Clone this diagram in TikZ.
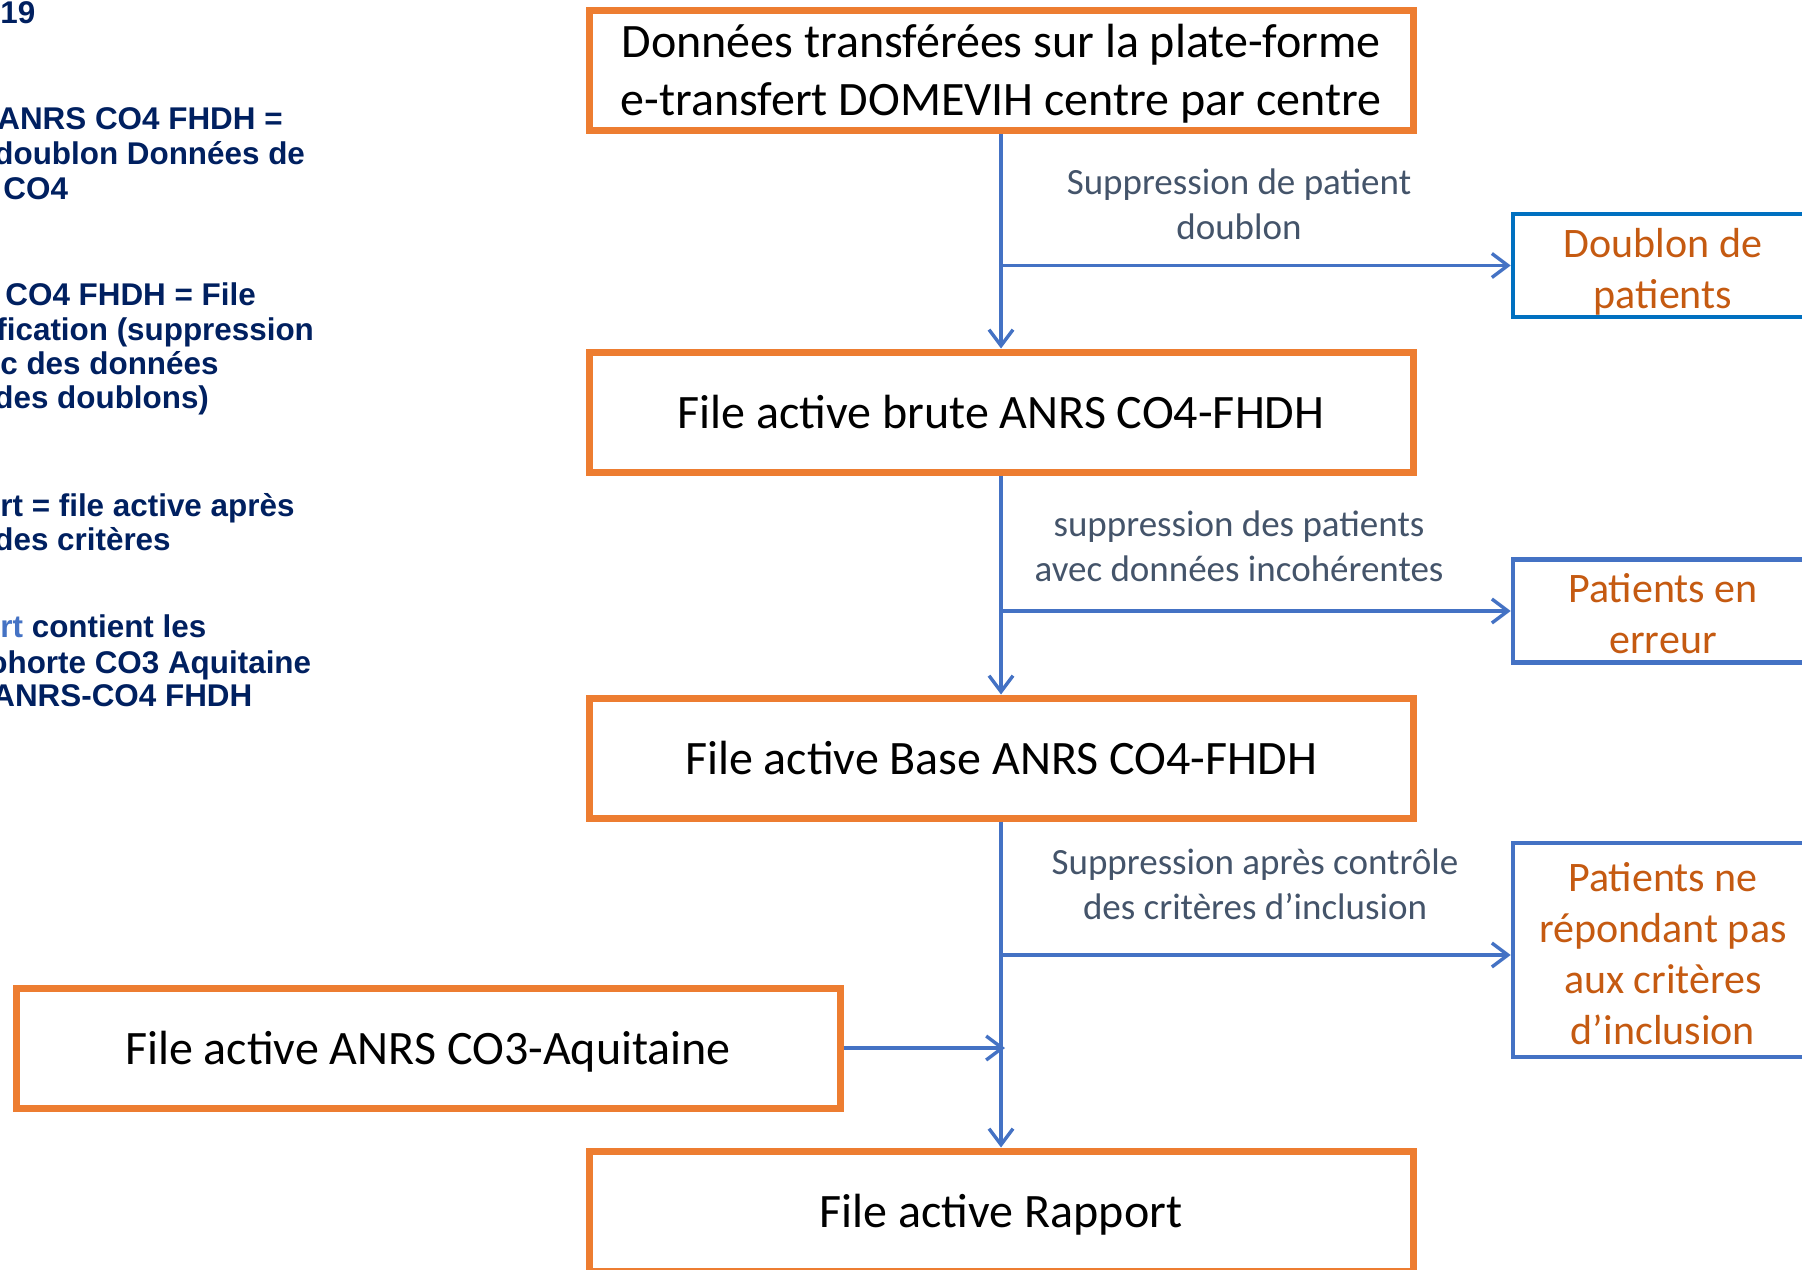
\documentclass[tikz,border=0pt]{standalone}
\usepackage{fontspec}
\setmainfont{Carlito}
\newfontfamily\leftfont{Liberation Sans}
\usetikzlibrary{arrows.meta}
\definecolor{boxorange}{HTML}{ED7D31}
\definecolor{boxblue}{HTML}{0070C0}
\definecolor{lineblue}{HTML}{4472C4}
\definecolor{txtorange}{HTML}{C55A11}
\definecolor{lblgrey}{HTML}{44546A}
\definecolor{navy}{HTML}{002060}
\begin{document}
\begin{tikzpicture}[x=0.5pt,y=-0.5pt,
 mainbox/.style={draw=boxorange, line width=3.5pt, minimum width=412pt, minimum height=60pt, align=center, font=\fontsize{24}{29.3}\selectfont, inner sep=0pt},
 sidebox/.style={draw=#1, line width=2.3pt, minimum width=150pt, align=center, text=txtorange, font=\fontsize{21}{25.5}\selectfont, inner sep=0pt, text depth=0pt},
 lbl/.style={align=center, text=lblgrey, font=\fontsize{18.5}{22.5}\selectfont, inner sep=0pt},
 flow/.style={draw=lineblue, line width=1.7pt, -{Straight Barb[length=8pt,width=12pt]}},
 note/.style={anchor=base west, inner sep=0pt, text=navy, font=\leftfont\bfseries\fontsize{15.7}{17.25}\selectfont}
]
\useasboundingbox (0,0) rectangle (1802,1269);
\fill[white] (0,0) rectangle (1802,1269);

\node[mainbox, text depth=0pt] (b1) at (1001,70) {Données transférées sur la plate-forme\\e-transfert DOMEVIH centre par centre};
\node[mainbox] (b2) at (1001,412) {File active brute ANRS CO4-FHDH};
\node[mainbox] (b3) at (1001,758) {File active Base ANRS CO4-FHDH};
\node[mainbox, text depth=0pt] (b4) at (428,1048) {File active ANRS CO3-Aquitaine};
\node[mainbox, text depth=0pt] (b5) at (1001,1211) {File active Rapport};

\node[sidebox=boxblue, minimum height=51.5pt, text height=42.9pt] (s1) at (1663,265.5) {Doublon de\\patients};
\node[sidebox=lineblue, minimum height=51.5pt, text height=42.9pt] (s2) at (1663,611) {Patients en\\erreur};
\node[sidebox=lineblue, minimum height=107pt, text height=94.7pt] (s3) at (1663,950) {Patients ne\\répondant pas\\aux critères\\d’inclusion};

\node[lbl] (t1) at (1239,204) {Suppression de patient\\doublon};
\node[lbl] (t2) at (1239,546) {suppression des patients\\avec données incohérentes};
\node[lbl] (t3) at (1255,884) {Suppression après contrôle\\des critères d’inclusion};

\coordinate (j1) at (b1.south |- s1.west);
\coordinate (j2) at (b1.south |- s2.west);
\coordinate (j3) at (1002,955);
\draw[flow] (b1.south) -- (b2.north);
\draw[flow] (b2.south) -- (b3.north);
\draw[flow] (b3.south) -- (b5.north);
\draw[flow] (j1) -- (s1.west);
\draw[flow] (j2) -- (s2.west);
\draw[flow] (j3) -- (j3 -| s3.west);
\draw[flow] (b4.east) -- ([xshift=2pt]b4.east -| b3.south);

\node[note] (n1) at (0,23) {19};
\node[note] (n2) at (-3,129) {ANRS CO4 FHDH =};
\node[note] (n3) at (-6,164) {doublon Données de};
\node[note] (n4) at (3,199) {CO4};
\node[note] (n5) at (5,305) {CO4 FHDH = File};
\node[note] (n6) at (-4,340) {fication (suppression};
\node[note] (n7) at (0,374) {c des données};
\node[note] (n8) at (-6,408) {des doublons)};
\node[note] (n9) at (0,516) {rt = file active après};
\node[note] (n10) at (-6,550) {des critères};
\node[note] (n11) at (0,637) {\textcolor{lineblue}{rt} contient les};
\node[note] (n12) at (-12,673) {ohorte CO3 Aquitaine};
\node[note] (n13) at (-8,706) {ANRS-CO4 FHDH};
\end{tikzpicture}
\end{document}
